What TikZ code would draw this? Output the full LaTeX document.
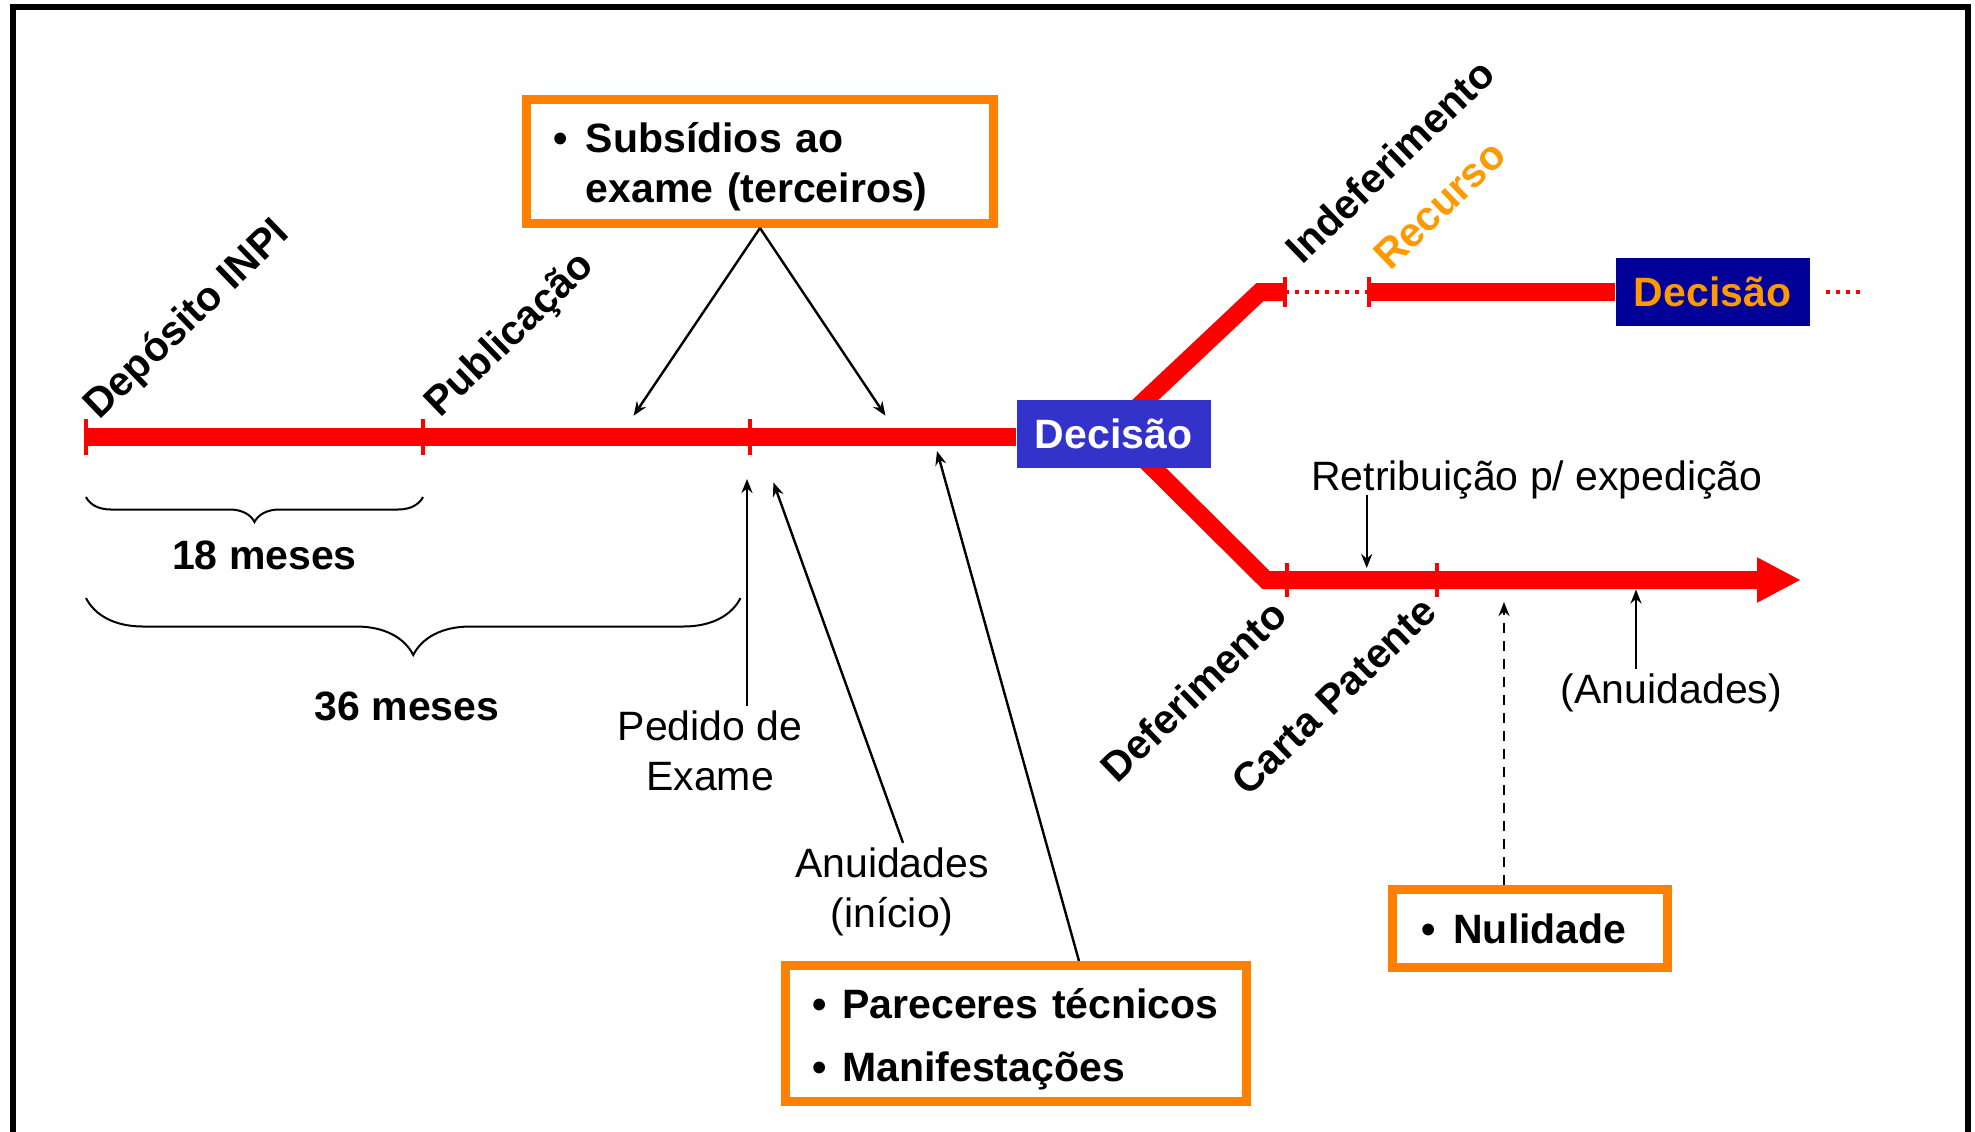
\documentclass[tikz,border=0pt]{standalone}
\usepackage{fontspec}
\setmainfont{Liberation Sans}
\usetikzlibrary{positioning}
\usetikzlibrary{calc}
\usetikzlibrary{arrows.meta}
\usetikzlibrary{backgrounds}
\usetikzlibrary{decorations.pathreplacing}
\definecolor{tlred}{RGB}{255,0,0}
\definecolor{boxorange}{RGB}{255,128,0}
\definecolor{recorange}{RGB}{255,153,0}
\definecolor{decblue}{RGB}{51,51,204}
\definecolor{decnavy}{RGB}{0,0,153}
\newcommand{\diagfont}{\fontsize{20.5}{25}\selectfont}
\tikzset{
  timeline/.style={draw=tlred,line width=9pt},
  tickmark/.style={draw=tlred,line width=2pt},
  tldots/.style={draw=tlred,line width=2pt,dash pattern=on 2pt off 3pt},
  decbox/.style={inner sep=0pt,minimum width=97pt,minimum height=34pt,font=\bfseries},
  itembox/.style={draw=boxorange,line width=4.5pt,fill=white,align=left,font=\bfseries,inner ysep=0pt},
  steplabel/.style={font=\bfseries,rotate=44,inner sep=0pt},
  note/.style={align=center,inner sep=2pt},
  ptr/.style={-{Stealth[length=7pt,width=5.5pt]},line width=1.2pt},
  months/.style={decorate,decoration={brace,mirror,amplitude=#1},line width=1pt},
}

\begin{document}
\diagfont
\begin{tikzpicture}[x=0.5pt,y=-0.5pt]
        \useasboundingbox (0,0) rectangle (1975,1131);
        \draw[line width=3pt] (12.5,7) rectangle (1968,1150);

        \coordinate (t0) at (86,437);
        \coordinate (t1) at (423,437);
        \coordinate (t2) at (749.5,437);
        \coordinate (ub) at (1260,292);
        \coordinate (u1) at (1285,292);
        \coordinate (u2) at (1369,292);
        \coordinate (lb) at (1266,580);
        \coordinate (l1) at (1287,580);
        \coordinate (l2) at (1437,580);
        \coordinate (le) at (1801,580);

        \node[decbox,fill=decblue,text=white] (dec1) at (1113.5,434) {Decisão};
        \node[decbox,fill=decnavy,text=recorange] (dec2) at (1712.5,292) {Decisão};

        \begin{scope}[on background layer]
          \draw[timeline] (t0) -- (t0 -| dec1.west);
          \draw[timeline] ($(dec1)+(-7.5,3)$) -- (ub) -- (u1);
          \draw[tldots] (u1) -- (u2);
          \draw[timeline] (u2) -- (u2 -| dec2.west);
          \draw[timeline,-{Triangle[length=22pt,width=21pt]}] ($(dec1)+(8.5,3)$) -- (lb) -- (le);
          \foreach \t in {t0,t1,t2}
            \draw[tickmark] ($(\t)+(0,-18)$) -- ($(\t)+(0,18)$);
          \foreach \t in {u1,u2}
            \draw[tickmark] ($(\t)+(0,-15)$) -- ($(\t)+(0,15)$);
          \foreach \t in {l1,l2}
            \draw[tickmark] ($(\t)+(0,-17)$) -- ($(\t)+(0,17)$);
        \end{scope}
        \draw[tldots] ($(dec2.east)+(16,0)$) -- ++(38,0);

        \node[steplabel,anchor=base west] (dep) at ($(t0)+(13,-16)$) {Depósito INPI};
        \node[steplabel,anchor=base west] (pub) at ($(t1)+(17,-18)$) {Publicação};
        \node[steplabel,anchor=base west] (indef) at ($(u1)+(17,-26)$) {Indeferimento};
        \node[steplabel,anchor=base west,text=recorange] (rec) at ($(u2)+(21,-20)$) {Recurso};
        \node[steplabel,anchor=base east] (def) at ($(l1)+(3,38)$) {Deferimento};
        \node[steplabel,anchor=base east] (carta) at ($(l2)+(2,34)$) {Carta Patente};

        \draw[months=12.5pt] ($(t0)+(0,60)$) -- ($(t1)+(0,60)$);
        \draw[months=28.5pt] ($(t0)+(0,161)$) -- ($(t2)+(-9,161)$);
        \node[font=\bfseries,anchor=base] (m18) at (264.5,569) {18 meses};
        \node[font=\bfseries,anchor=base] (m36) at (407,720.5) {36 meses};

        \node[itembox,text width=206.5pt,inner xsep=13.5pt,minimum height=62pt] (sub) at (760,161.5)
          {\raisebox{-3pt}[\height][\depth]{\begin{tabular}{@{}l@{\hspace{9pt}}l@{}}\textbullet & Subsídios ao\\ & exame (terceiros)\end{tabular}}};
        \node[itembox,text width=204pt,inner xsep=13.25pt,minimum height=68pt] (par) at (1016,1033.5)
          {\raisebox{-3pt}[\height][\depth]{\begin{tabular}{@{}l@{\hspace{8pt}}l@{}}\textbullet & Pareceres técnicos\\[6.5pt] \textbullet & Manifestações\end{tabular}}};
        \node[itembox,text width=109pt,inner xsep=14.25pt,minimum height=39pt] (nul) at (1530,928.5)
          {\raisebox{-2.5pt}[\height][\depth]{\begin{tabular}{@{}l@{\hspace{9pt}}l@{}}\textbullet & Nulidade\end{tabular}}};

        \node[note,anchor=base] (ped) at (710,790) {Pedido de\\Exame};
        \node[note,anchor=base] (anu) at (892,927) {Anuidades\\(início)};
        \node[note,anchor=base] (retr) at (1537,490) {Retribuição p/ expedição};
        \node[note,anchor=base] (anup) at (1671.5,703) {(Anuidades)};

        \coordinate (s1) at (633.6,415.7);
        \coordinate (s2) at (885.5,415.7);
        \coordinate (pe) at (747,479);
        \coordinate (ae) at (773.4,482.4);
        \coordinate (pae) at (937,451);
        \coordinate (re) at (1366.7,568);
        \coordinate (ape) at (1636,589.5);
        \coordinate (ne) at (1504,602);

        \draw[ptr] (sub.south) -- (s1);
        \draw[ptr] (sub.south) -- (s2);
        \draw[ptr] (ped.north -| pe) -- (pe);
        \draw[ptr] ($(anu.north)+(11,0)$) -- (ae);
        \draw[ptr] ($(par.north west)+(298,0)$) -- (pae);
        \draw[ptr] ($(retr.base -| re)+(0,5)$) -- (re);
        \draw[ptr] (anup.north -| ape) -- (ape);
        \draw[ptr,dash pattern=on 5pt off 4pt] (nul.north -| ne) -- (ne);
      \end{tikzpicture}
\end{document}
